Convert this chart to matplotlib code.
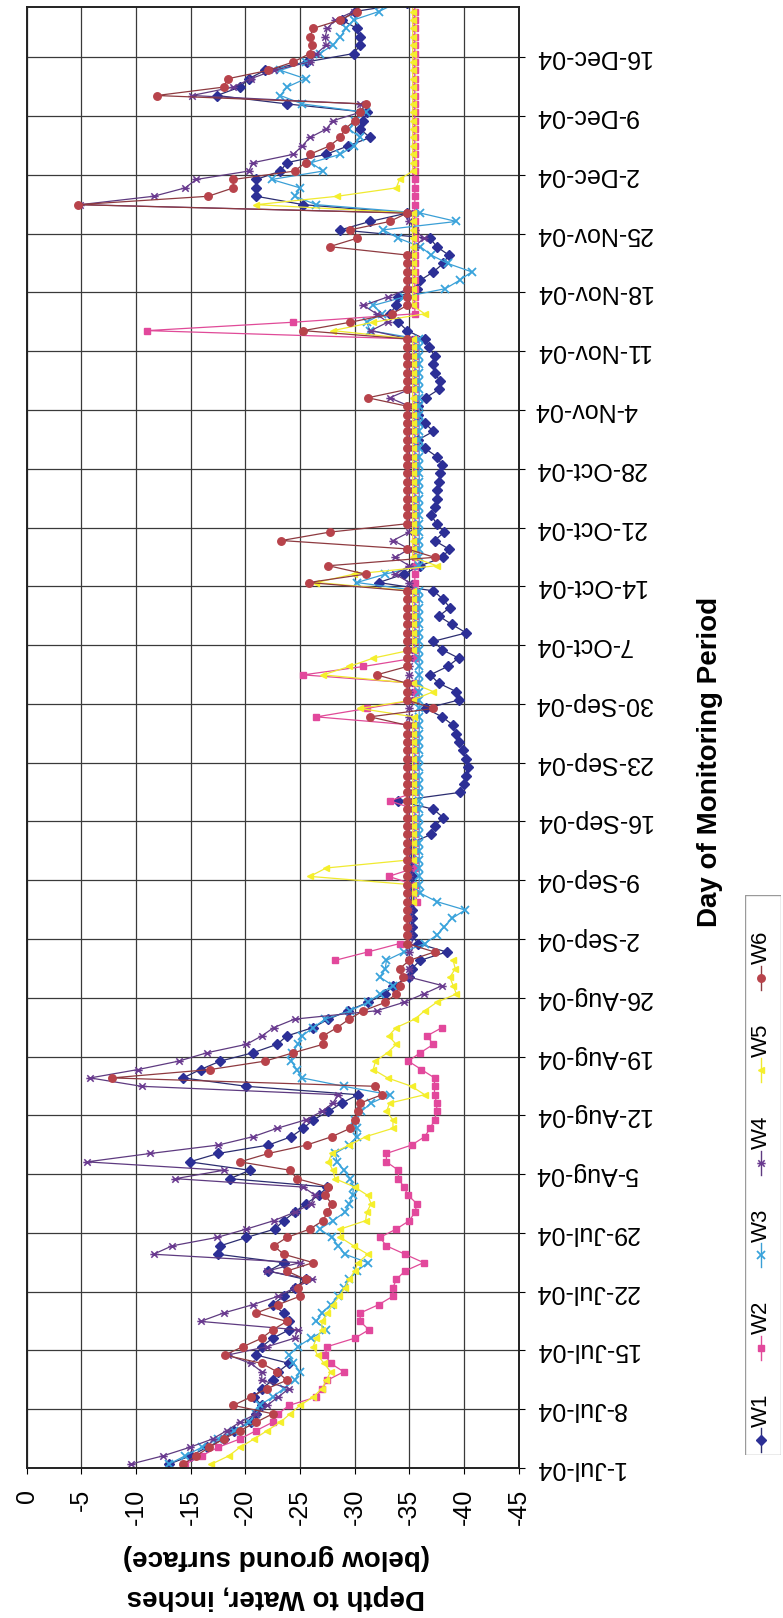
import numpy as np
import pandas as pd
import matplotlib
matplotlib.use('Agg')
import matplotlib.pyplot as plt
from matplotlib.path import Path
from matplotlib.patches import Rectangle

plt.rcParams['font.family'] = ['Liberation Sans', 'DejaVu Sans']
plt.rcParams['axes.unicode_minus'] = False

nan = np.nan

# daily readings from 1-Jul-04, depth to water in inches (below ground surface)
w1 = [-13.0, -15.0, -16.5, -18.0, -19.0, -20.5, -21.0, -21.5, -20.8, -21.5,
      -22.5, -23.0, -24.0, -21.0, -21.5, -22.5, -24.0, -24.0, -23.5, -22.5,
      -23.5, -24.5, -25.5, -22.1, -23.5, -17.5, -17.7, -20.1, -22.7, -23.5,
      -24.5, -25.5, -26.7, -27.5, -18.6, -20.4, -14.9, -17.5, -22.1, -24.2,
      -25.3, -26.2, -27.6, -28.8, -30.3, -20.1, -14.3, -15.9, -17.7, -20.7,
      -22.9, -23.8, -26.2, -27.6, -29.4, -31.2, -32.8, -33.5, -35.0, -35.2,
      -36.0, -38.4, -35.8, -35.2, -35.2, -35.2, -35.2, -35.2, -35.2, -35.2,
      -35.2, -35.2, -35.2, -35.2, -35.2, -37.0, -37.3, -38.1, -37.2, -34.0,
      -39.6, -40.0, -40.2, -40.4, -40.2, -39.9, -39.5, -39.3, -39.0, -38.0,
      -36.5, -39.5, -39.3, -37.7, -36.9, -38.5, -39.5, -38.0, -37.2, -40.2,
      -38.9, -37.7, -38.7, -38.1, -37.2, -32.2, -34.5, -36.0, -38.1, -38.6,
      -37.3, -38.2, -37.5, -37.0, -37.3, -37.5, -37.5, -37.7, -37.8, -38.0,
      -37.5, -36.4, -35.8, -37.2, -36.4, -35.8, -35.8, -36.5, -37.7, -37.8,
      -37.3, -37.2, -37.3, -36.8, -36.4, -34.8, -34.0, -33.2, -33.8, -34.0,
      -35.7, -36.0, -37.2, -38.1, -38.6, -37.5, -36.9, -28.7, -31.4, -34.8,
      -25.3, -21.0, -21.0, -21.0, -23.2, -23.8, -27.4, -29.4, -31.4, -30.5,
      -30.8, -31.1, -23.8, -17.4, -19.5, -20.3, -21.8, -25.6, -29.9, -30.5,
      -30.5, -30.2, -28.8, -30.0, -34.8]

w2 = [-14.5, -16.0, -17.5, -19.5, -21.0, -22.5, -23.0, -24.0, -26.5, -27.0,
      -27.5, -29.0, -27.8, -27.3, -27.5, -30.0, -31.3, -30.5, -30.5, -32.2,
      -33.5, -33.5, -33.8, -34.6, -36.3, -34.6, -32.9, -32.3, -33.8, -35.0,
      -35.5, -35.7, -34.9, -34.5, -34.0, -34.0, -32.9, -32.9, -35.2, -36.4,
      -36.9, -37.3, -37.5, -37.5, -37.3, -37.3, -37.3, -36.1, -34.9, -36.0,
      -37.2, -36.6, -38.0, nan, nan, nan, nan, nan, nan, nan,
      -28.2, -31.2, -34.1, nan, nan, nan, nan, -35.7, -35.5, -35.5,
      -33.1, -35.5, -35.5, -35.5, -35.5, -35.5, -35.5, -35.5, -35.5, -33.2,
      -35.5, -35.5, -35.5, -35.5, -35.5, -35.5, -35.5, -35.5, -35.5, -26.5,
      -31.1, -35.5, -35.5, -35.5, -25.3, -30.8, -35.5, -35.5, -35.5, -35.5,
      -35.5, -35.5, -35.5, -35.5, -35.5, -35.5, -35.5, -35.5, -35.5, -35.5,
      -35.5, -35.5, -35.5, -35.5, -35.5, -35.5, -35.5, -35.5, -35.5, -35.5,
      -35.5, -35.5, -35.5, -35.5, -35.5, -35.5, -35.5, -35.5, -35.5, -35.5,
      -35.5, -35.5, -35.5, -35.5, -35.5, -11.0, -24.4, -35.5, -35.5, -35.5,
      -35.5, -35.5, -35.5, -35.5, -35.5, -35.5, -35.5, -35.5, -35.5, -35.5,
      -35.5, -35.5, -35.5, -35.5, -35.5, -35.5, -35.5, -35.5, -35.5, -35.5,
      -35.5, -35.5, -35.5, -35.5, -35.5, -35.5, -35.5, -35.5, -35.5, -35.5,
      -35.5, -35.5, -35.5, -35.5, -35.5]

w3 = [-13.0, -14.5, -16.0, -17.5, -19.0, -20.3, -21.0, -21.3, -22.5, -23.5,
      -24.5, -25.0, -24.4, -24.0, -24.8, -26.0, -27.4, -26.5, -27.0, -27.8,
      -28.5, -29.0, -29.5, -30.2, -31.2, -29.1, -28.5, -27.9, -26.8, -28.0,
      -29.1, -29.5, -29.8, -29.9, -29.6, -29.0, -28.4, -28.2, -29.5, -30.2,
      -30.2, -30.0, -30.6, -31.5, -33.2, -29.0, -25.2, -24.7, -24.2, -24.3,
      -24.8, -25.2, -26.2, -27.3, -29.6, -31.2, -32.3, -33.5, -32.3, -32.8,
      -32.9, -34.5, -36.4, -37.5, -38.2, -38.9, -40.1, -37.5, -36.0, -35.9,
      -35.9, -35.9, -35.9, -35.9, -35.9, -35.9, -35.9, -35.9, -35.9, -35.9,
      -35.9, -35.9, -35.9, -35.9, -35.9, -35.9, -35.9, -35.9, -35.9, -35.9,
      -35.9, -35.9, -35.9, -35.9, -35.9, -35.9, -35.9, -35.9, -35.9, -35.9,
      -35.9, -35.9, -35.9, -35.9, -35.9, -30.2, -32.8, -35.9, -35.9, -35.9,
      -35.9, -35.9, -35.9, -35.9, -35.9, -35.9, -35.9, -35.9, -35.9, -35.9,
      -35.9, -35.9, -35.9, -35.9, -35.9, -35.9, -35.9, -35.9, -35.9, -35.9,
      -35.9, -35.9, -35.9, -35.9, -35.9, -31.4, -31.1, -32.5, -31.7, -34.5,
      -38.3, -39.6, -40.7, -38.5, -37.0, -36.0, -34.0, -32.6, -39.3, -36.0,
      -26.5, -24.5, -25.0, -22.4, -27.1, -26.0, -28.7, -29.9, -30.5, -29.5,
      -30.0, -31.0, -25.2, -23.2, -23.8, -25.5, -23.2, -25.5, -26.8, -28.0,
      -28.7, -29.2, -29.9, -32.2, -33.8]

w4 = [-9.5, -12.5, -14.9, -17.0, -18.3, -19.5, -21.0, -22.0, -23.0, -24.0,
      -21.5, -21.5, -20.5, -18.4, -22.0, -24.5, -24.8, -15.9, -18.0, -20.7,
      -23.0, -24.5, -26.1, -22.0, -25.0, -11.6, -13.3, -17.4, -20.1, -22.6,
      -24.5, -26.0, -26.4, -25.3, -13.6, -18.0, -5.5, -11.3, -17.5, -20.7,
      -22.9, -25.5, -27.0, -28.0, -28.5, -10.5, -5.8, -10.2, -13.9, -16.5,
      -20.1, -21.5, -22.6, -24.5, -32.0, -34.5, -36.3, -38.0, -35.0, -35.0,
      -35.0, -35.0, -35.0, -35.0, -35.0, -35.0, -35.0, -35.0, -35.0, -35.0,
      -35.0, -35.0, -35.0, -35.0, -35.0, -35.0, -35.0, -35.0, -35.0, -35.0,
      -35.0, -35.0, -35.0, -35.0, -35.0, -35.0, -35.0, -35.0, -35.0, -35.0,
      -35.0, -35.0, -35.0, -35.0, -35.0, -35.0, -35.0, -35.0, -35.0, -35.0,
      -35.0, -35.0, -35.0, -35.0, -35.0, -35.0, -33.7, -35.0, -33.7, -35.0,
      -33.5, -35.0, -35.0, -35.0, -35.0, -35.0, -35.0, -35.0, -35.0, -35.0,
      -35.0, -35.0, -35.0, -35.0, -35.0, -35.0, -35.0, -33.2, -35.0, -35.0,
      -35.0, -35.0, -35.0, -35.0, -35.0, -31.5, -33.0, -32.0, -30.8, -33.0,
      -35.0, -35.0, -35.0, -35.0, -35.0, -35.5, -36.3, -35.5, -35.0, -35.0,
      -4.9, -11.6, -14.5, -15.5, -20.3, -20.7, -24.4, -25.2, -25.9, -27.4,
      -28.0, -30.5, -30.5, -15.1, -18.9, -20.5, -22.6, -25.9, -26.5, -27.4,
      -27.3, -27.5, -28.2, -29.9, -31.1]

w5 = [-16.9, -18.5, -19.5, -20.8, -22.0, -23.2, -24.1, -25.0, -26.2, -27.0,
      -27.4, -27.8, -27.2, -26.6, -26.2, -26.5, -27.0, -27.0, -27.5, -28.0,
      -28.6, -29.1, -29.5, -30.0, -30.3, -31.2, -29.9, -28.7, -28.7, -31.0,
      -31.1, -31.5, -31.2, -30.0, -28.2, -28.0, -27.6, -27.9, -29.5, -31.0,
      -33.5, -33.5, -32.9, -33.2, -36.4, -35.2, -33.0, -31.7, -31.9, -33.0,
      -33.8, -33.1, -33.8, -35.5, -36.4, -37.5, -39.3, -39.0, -38.7, -39.2,
      -39.0, nan, nan, nan, nan, nan, nan, -35.3, -35.3, -35.3,
      -25.9, -27.4, -35.3, -35.3, -35.3, -35.3, -35.3, -35.3, -35.3, -35.3,
      -35.3, -35.3, -35.3, -35.3, -35.3, -35.3, -35.3, -35.3, -35.3, -35.4,
      -30.5, -35.3, -37.2, -35.3, -27.1, -29.5, -31.7, -35.3, -35.3, -35.3,
      -35.3, -35.3, -35.3, -35.3, -35.3, -26.5, -29.9, -37.5, -35.3, -35.3,
      -35.3, -35.3, -35.3, -35.3, -35.3, -35.3, -35.3, -35.3, -35.3, -35.3,
      -35.3, -35.3, -35.3, -35.3, -35.3, -35.3, -35.3, -35.3, -35.3, -35.3,
      -35.3, -35.3, -35.3, -35.3, -35.3, -28.0, -31.7, -36.4, -35.3, -35.3,
      -35.3, -35.3, -35.3, -35.3, -35.3, -35.3, -35.3, -35.3, -35.3, -35.3,
      -21.0, -28.4, -33.8, -34.1, -35.3, -35.3, -35.3, -35.3, -35.3, -35.3,
      -35.3, -35.3, -35.3, -35.3, -35.3, -35.3, -35.3, -35.3, -35.3, -35.3,
      -35.3, -35.3, -35.3, -35.3, -35.3]

w6 = [-14.3, -15.5, -16.7, -18.0, -19.5, -21.0, -22.5, -18.9, -20.5, -22.0,
      -23.8, -22.9, -21.5, -18.1, -19.8, -21.5, -22.5, -23.8, -21.0, -23.0,
      -25.0, -24.8, -25.5, -23.8, -26.2, -23.5, -22.6, -23.8, -25.9, -27.1,
      -27.5, -27.9, -27.3, -27.6, -24.7, -24.1, -19.5, -22.1, -25.6, -27.9,
      -29.6, -30.0, -30.3, -30.5, -32.5, -31.9, -7.8, -16.8, -21.8, -24.4,
      -27.1, -27.1, -28.4, -29.5, -30.8, -32.8, -33.8, -34.1, -34.4, -34.1,
      -35.0, -37.3, -34.8, -34.8, -34.8, -34.8, -34.8, -34.8, -34.8, -34.8,
      -34.8, -34.8, -34.8, -34.8, -34.8, -34.8, -34.8, -34.8, -34.8, -34.8,
      -34.8, -34.8, -34.8, -34.8, -34.8, -34.8, -34.8, -34.8, -34.8, -31.4,
      -37.2, -34.8, -34.8, -34.8, -32.0, -34.8, -34.8, -34.8, -34.8, -34.8,
      -34.8, -34.8, -34.8, -34.8, -34.8, -25.8, -31.0, -27.6, -37.3, -34.8,
      -23.3, -27.7, -34.8, -34.8, -34.8, -34.8, -34.8, -34.8, -34.8, -34.8,
      -34.8, -34.8, -34.8, -34.8, -34.8, -34.8, -34.8, -31.2, -34.8, -34.8,
      -34.8, -34.8, -34.8, -34.8, -34.8, -25.3, -29.6, -33.4, -34.8, -34.8,
      -34.8, -34.8, -34.8, -34.8, -34.8, -27.7, -30.2, -29.6, -33.2, -34.8,
      -4.7, -16.6, -18.9, -18.9, -24.5, -25.5, -25.9, -27.7, -28.7, -29.1,
      -30.0, -30.5, -31.0, -11.9, -18.0, -18.4, -22.1, -24.4, -25.9, -26.1,
      -25.9, -26.2, -28.7, -30.2, -30.5]

names = ['W1', 'W2', 'W3', 'W4', 'W5', 'W6']
readings = [w1, w2, w3, w4, w5, w6]

days = pd.date_range('2004-07-01 11:00', periods=len(w1), freq='D')
tick_dates = pd.date_range('2004-07-01', '2004-12-16', freq='7D')
tick_labels = ['1-Jul-04', '8-Jul-04', '15-Jul-04', '22-Jul-04', '29-Jul-04',
               '5-Aug-04', '12-Aug-04', '19-Aug-04', '26-Aug-04', '2-Sep-04',
               '9-Sep-04', '16-Sep-04', '23-Sep-04', '30-Sep-04', '7-Oct-04',
               '14-Oct-04', '21-Oct-04', '28-Oct-04', '4-Nov-04', '11-Nov-04',
               '18-Nov-04', '25-Nov-04', '2-Dec-04', '9-Dec-04', '16-Dec-04']
depth_ticks = [0, -5, -10, -15, -20, -25, -30, -35, -40, -45]

# excel "star" marker: an x with a bar through it
star = Path([(-1, -1), (1, 1), (-1, 1), (1, -1), (-1.3, 0), (1.3, 0)],
            [Path.MOVETO, Path.LINETO, Path.MOVETO, Path.LINETO, Path.MOVETO, Path.LINETO])

styles = [
    dict(color='#2b2d70', marker='D', ms=4.6, mfc='#2c2f96', mec='#2c2f96'),
    dict(color='#e04a98', marker='s', ms=4.8, mfc='#e2489c', mec='#e2489c'),
    dict(color='#3a9fd6', marker='x', ms=5.6, mew=1.3, mec='#3aa4dc'),
    dict(color='#5e3a80', marker=star, ms=6.0, mew=1.1, mec='#6a3a90'),
    dict(color='#f0ea30', marker='<', ms=5.0, mfc='#f5ef2c', mec='#f5ef2c'),
    dict(color='#8e3a40', marker='o', ms=5.4, mfc='#b8434b', mec='#b8434b'),
]

fig = plt.figure(figsize=(7.83, 16.18), dpi=100)
ax = fig.add_axes([26.7 / 783, 1 - 1468 / 1618, 492 / 783, 1461 / 1618])

for vals, st in zip(readings, styles):
    ax.plot(vals, days, lw=0.9, **st)

ax.set_xlim(0, -45)
ax.set_ylim(pd.Timestamp('2004-07-01'), pd.Timestamp('2004-12-22'))
ax.set_xticks(depth_ticks)
ax.set_xticklabels([str(t) for t in depth_ticks], rotation=90, fontsize=18)
ax.yaxis.tick_right()
ax.set_yticks(tick_dates)
ax.set_yticklabels(tick_labels, rotation=180, fontsize=18, va='center')
ax.tick_params(axis='y', length=4, pad=7.5)
ax.tick_params(axis='x', length=4, pad=11)
ax.grid(True, color='#3a3a3a', linewidth=0.9)
for sp in ax.spines.values():
    sp.set_linewidth(1.4)
    sp.set_color('#222222')

# axis title, upside down like the scanned page
fig.text(276 / 783, 1 - 1597 / 1618, 'Depth to Water, inches', rotation=180,
         ha='center', va='center', fontsize=20, fontweight='bold')
fig.text(276 / 783, 1 - 1557 / 1618, '(below ground surface)', rotation=180,
         ha='center', va='center', fontsize=20, fontweight='bold')

fig.text(710 / 783, 1 - 762 / 1618, 'Day of Monitoring Period', rotation=90,
         ha='center', va='center', fontsize=20, fontweight='bold')

# legend, turned like the rest of the chart
lax = fig.add_axes([745 / 783, 1 - 1455 / 1618, 36 / 783, 560 / 1618])
lax.set_xlim(0, 1)
lax.set_ylim(1455, 895)
lax.axis('off')
lax.add_patch(Rectangle((0, 895), 1, 560, fill=False, ec='#9a9a9a', lw=1.0))
for i, (nm, st) in enumerate(zip(names, styles)):
    ty = 1416 - 92.5 * i
    lax.plot([0.45, 0.45], [ty + 12, ty + 36], color=st['color'], lw=1.0)
    mk = {k: v for k, v in st.items() if k != 'color'}
    lax.plot([0.45], [ty + 24], color=st['color'], **mk)
    lax.text(0.45, ty - 6, nm, rotation=90, ha='center', va='center', fontsize=16)

fig.savefig('out.png', dpi=100)
